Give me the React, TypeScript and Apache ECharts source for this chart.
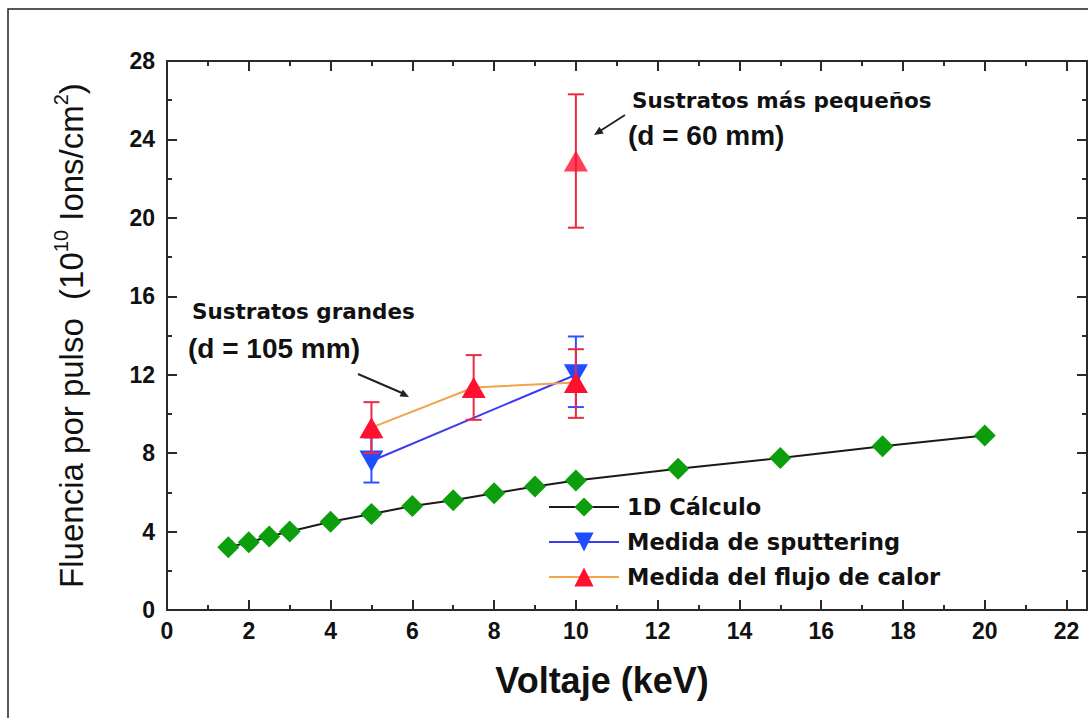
import React, { useEffect, useRef } from "react";
import * as echarts from "echarts";

// 1D Cálculo
const calcX = [1.5, 2, 2.5, 3, 4, 5, 6, 7, 8, 9, 10, 12.5, 15, 17.5, 20];
const calcY = [3.2, 3.45, 3.75, 4.0, 4.5, 4.9, 5.3, 5.6, 5.95, 6.3, 6.6, 7.2, 7.75, 8.35, 8.9];

// Medida de sputtering
const sputX = [5, 10];
const sputY = [7.6, 12.0];
const sputLow = [6.5, 10.35];
const sputHigh = [8.8, 13.95];

// Medida del flujo de calor (sustratos grandes)
const heatX = [5, 7.5, 10];
const heatY = [9.3, 11.35, 11.6];
const heatLow = [8.0, 9.7, 9.8];
const heatHigh = [10.6, 13.0, 13.3];

// Sustratos más pequeños
const smallX = [10];
const smallY = [22.9];
const smallLow = [19.5];
const smallHigh = [26.3];

const seriesNames = ["1D Cálculo", "Medida de sputtering", "Medida del flujo de calor"];
const xTitle = "Voltaje (keV)";

const LBL = "'Liberation Sans', Arial, sans-serif";
const DJ = "'DejaVu Sans', sans-serif";

function errSeries(xs: number[], lo: number[], hi: number[], color: string, z: number) {
  return {
    type: "custom",
    xAxisIndex: 0,
    yAxisIndex: 0,
    z,
    silent: true,
    data: xs.map((x, i) => [x, lo[i], hi[i]]),
    encode: { x: 0, y: [1, 2] },
    renderItem: (params: any, api: any) => {
      const x = api.value(0);
      const p1 = api.coord([x, api.value(1)]);
      const p2 = api.coord([x, api.value(2)]);
      const hw = 8;
      const st = { stroke: color, lineWidth: 2 };
      return {
        type: "group",
        children: [
          { type: "line", shape: { x1: p1[0], y1: p1[1], x2: p2[0], y2: p2[1] }, style: st },
          { type: "line", shape: { x1: p1[0] - hw, y1: p1[1], x2: p1[0] + hw, y2: p1[1] }, style: st },
          { type: "line", shape: { x1: p2[0] - hw, y1: p2[1], x2: p2[0] + hw, y2: p2[1] }, style: st },
        ],
      };
    },
  };
}

export default function App() {
  const ref = useRef<HTMLDivElement>(null);
  useEffect(() => {
    if (!ref.current) return;
    const chart = echarts.init(ref.current, null, { renderer: "svg" });
    const axisCol = "#2a2a2a";
    const baseX = {
      type: "value",
      min: 0,
      max: 22.5,
      interval: 2,
      axisLine: { show: true, onZero: false, lineStyle: { color: axisCol, width: 2 } },
      axisTick: { show: true, inside: true, length: 10, lineStyle: { color: axisCol, width: 2 } },
      minorTick: { show: true, splitNumber: 2, length: 5, lineStyle: { color: axisCol, width: 2 } },
      splitLine: { show: false },
      minorSplitLine: { show: false },
    };
    const baseY = {
      type: "value",
      min: 0,
      max: 28,
      interval: 4,
      axisLine: { show: true, onZero: false, lineStyle: { color: axisCol, width: 2 } },
      axisTick: { show: true, inside: true, length: 10, lineStyle: { color: axisCol, width: 2 } },
      minorTick: { show: true, splitNumber: 2, length: 5, lineStyle: { color: axisCol, width: 2 } },
      splitLine: { show: false },
      minorSplitLine: { show: false },
    };
    const option: any = {
      animation: false,
      backgroundColor: "#ffffff",
      grid: { left: 167, top: 61, width: 920, height: 549, containLabel: false },
      xAxis: [
        {
          ...baseX,
          position: "bottom",
          axisLabel: {
            show: true,
            margin: 9,
            showMaxLabel: false,
            fontFamily: LBL,
            fontWeight: "bold",
            fontSize: 23,
            color: "#111",
            formatter: (v: number) => (v % 2 === 0 ? String(v) : ""),
          },
        },
        { ...baseX, position: "top", axisLabel: { show: false } },
      ],
      yAxis: [
        {
          ...baseY,
          position: "left",
          name: "{a|Fluencia por pulso  (10}{s|10}{a| Ions/cm}{s|2}{a|)}",
          nameLocation: "middle",
          nameGap: 76,
          nameTextStyle: {
            color: "#111",
            rich: {
              a: { fontFamily: LBL, fontSize: 33, color: "#111", lineHeight: 40 },
              s: { fontFamily: LBL, fontSize: 20, color: "#111", verticalAlign: "top", lineHeight: 40 },
            },
          },
          axisLabel: {
            show: true,
            margin: 12,
            fontFamily: LBL,
            fontWeight: "bold",
            fontSize: 23,
            color: "#111",
          },
        },
        { ...baseY, position: "right", axisLabel: { show: false } },
      ],
      legend: {
        data: seriesNames,
        orient: "vertical",
        left: 548,
        top: 495,
        padding: 0,
        itemWidth: 70,
        itemHeight: 24,
        itemGap: 11,
        selectedMode: false,
        textStyle: {
          fontFamily: DJ,
          fontWeight: "bold",
          fontSize: 22.5,
          color: "#111",
          lineHeight: 24,
          padding: [0, 0, 0, 3],
        },
      },
      series: [
        {
          name: seriesNames[0],
          type: "line",
          xAxisIndex: 0,
          yAxisIndex: 0,
          z: 3,
          data: calcX.map((x, i) => [x, calcY[i]]),
          symbol: "diamond",
          symbolSize: 22,
          lineStyle: { color: "#1a1a1a", width: 2 },
          itemStyle: { color: "#0c9e0c", borderWidth: 0 },
        },
        errSeries(sputX, sputLow, sputHigh, "#2a55ff", 4),
        {
          name: seriesNames[1],
          type: "line",
          xAxisIndex: 0,
          yAxisIndex: 0,
          z: 5,
          data: sputX.map((x, i) => [x, sputY[i]]),
          symbol: "triangle",
          symbolRotate: 180,
          symbolSize: [24, 21],
          lineStyle: { color: "#3b3bf2", width: 2 },
          itemStyle: { color: "#1f4dff", borderWidth: 0 },
        },
        errSeries(heatX, heatLow, heatHigh, "#ea2a48", 6),
        errSeries(smallX, smallLow, smallHigh, "#ea2a48", 6),
        {
          name: seriesNames[2],
          type: "line",
          xAxisIndex: 0,
          yAxisIndex: 0,
          z: 7,
          data: heatX.map((x, i) => [x, heatY[i]]),
          symbol: "triangle",
          symbolSize: [24, 21],
          lineStyle: { color: "#f4a24e", width: 2 },
          itemStyle: { color: "#ff1030", borderWidth: 0 },
        },
        {
          name: "Sustratos más pequeños",
          type: "scatter",
          xAxisIndex: 0,
          yAxisIndex: 0,
          z: 7,
          data: smallX.map((x, i) => [x, smallY[i]]),
          symbol: "triangle",
          symbolSize: [24, 21],
          itemStyle: { color: "#ff1030", borderWidth: 0 },
        },
      ],
      graphic: [
        {
          type: "rect",
          z: -10,
          shape: { x: 8, y: 9, width: 1200, height: 800 },
          style: { fill: "none", stroke: "#222", lineWidth: 1.5 },
        },
        {
          type: "text",
          x: 602,
          y: 680,
          style: {
            text: xTitle,
            font: `bold 36px ${LBL}`,
            fill: "#111",
            align: "center",
            verticalAlign: "middle",
          },
        },
        {
          type: "text",
          x: 632,
          y: 100,
          style: {
            text: "Sustratos más pequeños",
            font: `bold 21.5px ${DJ}`,
            fill: "#111",
            verticalAlign: "middle",
          },
        },
        {
          type: "text",
          x: 628,
          y: 135,
          style: {
            text: "(d = 60 mm)",
            font: `bold 28px ${LBL}`,
            fill: "#111",
            verticalAlign: "middle",
          },
        },
        {
          type: "line",
          shape: { x1: 625, y1: 115, x2: 600, y2: 131 },
          style: { stroke: "#222", lineWidth: 2 },
        },
        {
          type: "polygon",
          shape: { points: [[594, 135], [603.7, 133.5], [599.4, 126.8]] },
          style: { fill: "#222" },
        },
        {
          type: "text",
          x: 192,
          y: 311,
          style: {
            text: "Sustratos grandes",
            font: `bold 21.5px ${DJ}`,
            fill: "#111",
            verticalAlign: "middle",
          },
        },
        {
          type: "text",
          x: 188,
          y: 348,
          style: {
            text: "(d = 105 mm)",
            font: `bold 28px ${LBL}`,
            fill: "#111",
            verticalAlign: "middle",
          },
        },
        {
          type: "line",
          shape: { x1: 358, y1: 374, x2: 402, y2: 393 },
          style: { stroke: "#222", lineWidth: 2 },
        },
        {
          type: "polygon",
          shape: { points: [[409, 397], [399.6, 396.6], [402.8, 389.4]] },
          style: { fill: "#222" },
        },
      ],
    };
    chart.setOption(option);
    return () => chart.dispose();
  }, []);
  return (
    <div
      ref={ref}
      style={{ position: "fixed", left: 0, top: 0, width: 1088, height: 718, background: "#fff" }}
    />
  );
}
